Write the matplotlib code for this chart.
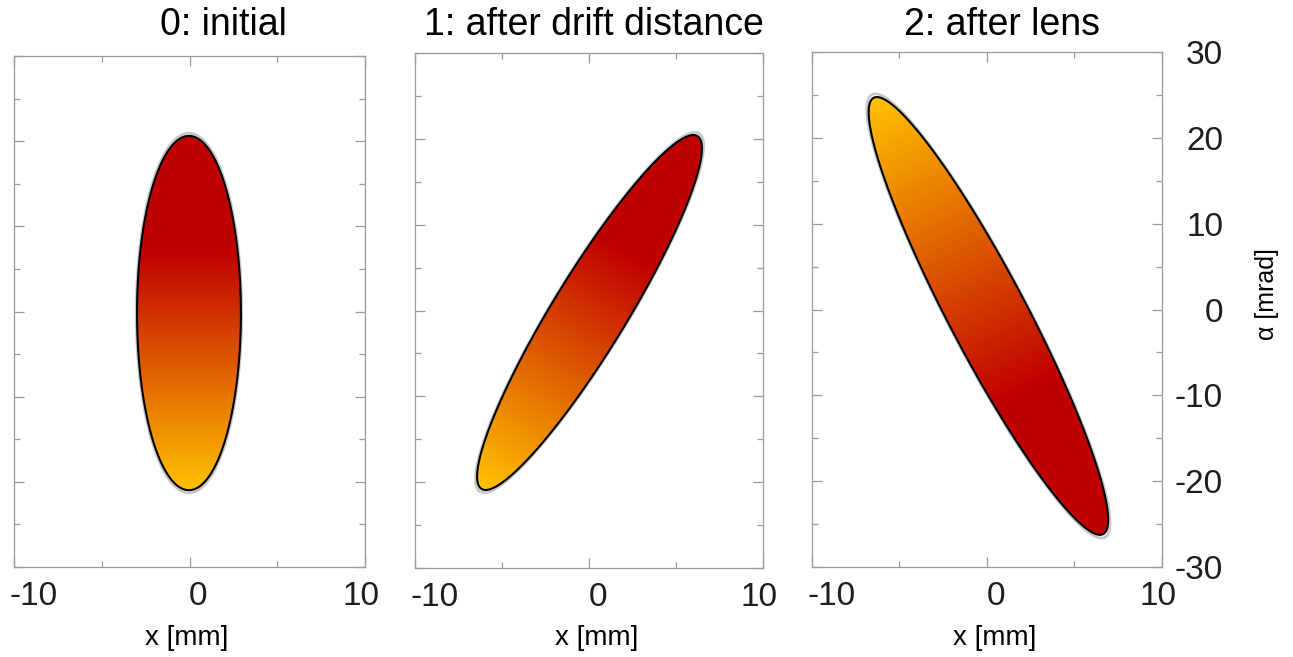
import numpy as np
import matplotlib
matplotlib.use('Agg')
from matplotlib import pyplot as plt
from matplotlib import font_manager
from matplotlib.colors import LinearSegmentedColormap
from matplotlib.patches import Polygon
from matplotlib.transforms import ScaledTranslation

plt.rcParams['font.family'] = ['Liberation Sans', 'DejaVu Sans']

titles = ['0: initial', '1: after drift distance', '2: after lens']
# ellipse centre (x [mm], alpha [mrad]) at each stage
centre_x = [-0.03, 0.03, 0.08]
centre_a = [-0.18, -0.23, -0.75]
# offset from the centre to the highest point of the ellipse
top_dx = [0.0, 5.97, -6.37]
top_da = [20.8, 20.68, 25.5]
# half chord along x through the centre
half_width = [2.96, 2.47, 2.5]
# which end is yellow
yellow_at_top = [False, False, True]

x_ticks = [-10, 0, 10]
x_tick_labels = ['-10', '0', '10']
x_minor = [-5, 5]
a_ticks = [30, 20, 10, 0, -10, -20, -30]
a_tick_labels = ['30', '20', '10', '0', '-10', '-20', '-30']
a_minor = [25, 15, 5, -5, -15, -25]

# panel frames in pixels: left, right, top, bottom
boxes = [(14, 365, 56, 567), (415, 763, 53, 568), (812, 1162, 52, 567)]
title_pos = [(223, 25), (594, 25), (1002, 25)]
xlabel_x = [187, 597, 995]
label_shift = [20, 9, -4]

names = {f.name for f in font_manager.fontManager.ttflist}
if 'Liberation Sans Narrow' in names:
    tick_font, tick_size = 'Liberation Sans Narrow', 27
else:
    tick_font, tick_size = 'Liberation Sans', 24

cmap = LinearSegmentedColormap.from_list(
    'beam', [(0.0, '#FFC000'), (0.67, '#C00000'), (1.0, '#C00000')])
frame_col = '#9a9a9a'

W, H = 1293, 657
fig = plt.figure(figsize=(W / 100, H / 100), dpi=100)

for i, (l, r, t, b) in enumerate(boxes):
    ax = fig.add_axes([l / W, 1 - b / H, (r - l) / W, (b - t) / H])
    sx = (r - l) / 20
    sy = (b - t) / 60

    cx, ca = centre_x[i], centre_a[i]
    ux, ua = top_dx[i], top_da[i]
    par = np.linspace(0, 2 * np.pi, 500)
    ex = cx + ux * np.cos(par) + half_width[i] * np.sin(par)
    ea = ca + ua * np.cos(par)

    # gradient runs from the low tip to the high tip in screen space
    gx = np.linspace(ex.min(), ex.max(), 300)
    ga = np.linspace(ea.min(), ea.max(), 600)
    GX, GA = np.meshgrid(gx, ga)
    dx, dy = 2 * ux * sx, 2 * ua * sy
    s = ((GX - (cx - ux)) * sx * dx + (GA - (ca - ua)) * sy * dy) / (dx * dx + dy * dy)
    s = np.clip(s, 0, 1)
    if yellow_at_top[i]:
        s = 1 - s

    halo = Polygon(np.column_stack([cx + (ex - cx) * 1.015, ca + (ea - ca) * 1.015]),
                   closed=True, fill=False, ec='#c8c8c8', lw=2.0, zorder=1)
    ax.add_patch(halo)
    img = ax.imshow(s, extent=[gx[0], gx[-1], ga[0], ga[-1]], origin='lower',
                    cmap=cmap, vmin=0, vmax=1, aspect='auto',
                    interpolation='bilinear', zorder=2)
    outline = Polygon(np.column_stack([ex, ea]), closed=True, fill=False,
                      ec='black', lw=1.5, zorder=4)
    ax.add_patch(outline)
    img.set_clip_path(outline)

    ax.set_xlim(-10, 10)
    ax.set_ylim(-30, 30)
    for sp in ax.spines.values():
        sp.set_color(frame_col)
        sp.set_linewidth(0.9)

    ax.set_xticks(x_ticks)
    ax.set_xticklabels(x_tick_labels, fontfamily=tick_font, fontsize=tick_size,
                       color='#1e1e1e')
    ax.set_xticks(x_minor, minor=True)
    ax.set_yticks(a_ticks)
    ax.set_yticks(a_minor, minor=True)
    ax.tick_params(which='both', direction='in', top=True, right=True,
                   color=frame_col, width=0.9)
    ax.tick_params(which='major', length=7)
    ax.tick_params(which='minor', length=4)
    ax.tick_params(axis='x', pad=10)
    if i == 2:
        ax.set_yticklabels(a_tick_labels, fontfamily=tick_font, fontsize=tick_size,
                           color='#1e1e1e')
        ax.tick_params(axis='y', labelleft=False, labelright=True, pad=44)
        for lab in ax.get_yticklabels(which='major'):
            lab.set_horizontalalignment('right')
        ax.yaxis.set_label_position('right')
        ax.set_ylabel('α [mrad]', fontsize=18, rotation=90)
        ax.yaxis.set_label_coords((1267 - l) / (r - l), 1 - (294 - t) / (b - t))
        ax.yaxis.label.set_verticalalignment('center')
        ax.yaxis.label.set_horizontalalignment('center')
    else:
        ax.tick_params(axis='y', labelleft=False)

    for lab, shift in zip(ax.get_xticklabels(), label_shift):
        lab.set_transform(lab.get_transform() +
                          ScaledTranslation(shift / 100, 0, fig.dpi_scale_trans))

    ax.set_xlabel('x [mm]', fontsize=20)
    ax.xaxis.set_label_coords((xlabel_x[i] - l) / (r - l), -(638 - b) / (b - t))
    ax.xaxis.label.set_verticalalignment('center')

    fig.text(title_pos[i][0] / W, 1 - title_pos[i][1] / H, titles[i],
             ha='center', va='center', fontsize=27)

fig.savefig('out.png', dpi=100)
